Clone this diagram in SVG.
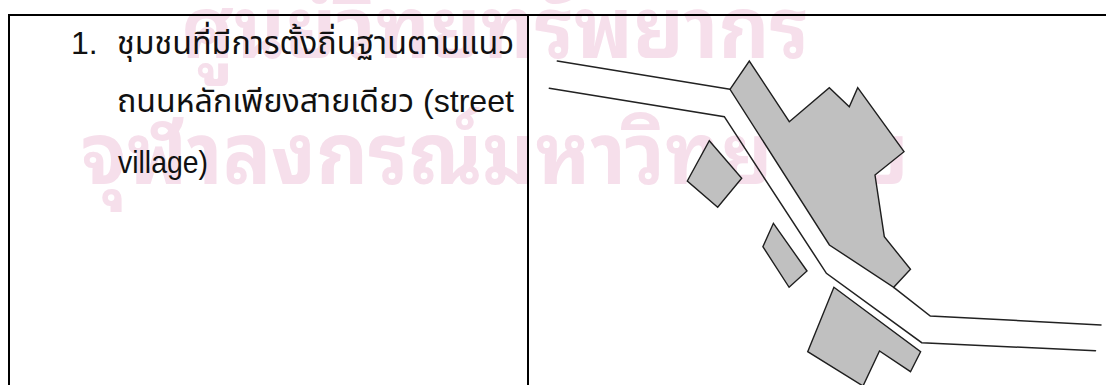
<svg xmlns="http://www.w3.org/2000/svg" width="1106" height="385" viewBox="0 0 1106 385">
  <style>
    .rule { stroke: #000; stroke-width: 2; fill: none; }
    .body { font-family: "Liberation Sans", "Noto Sans Thai", "Noto Sans Thai Looped", "Loma", "Garuda", "Noto Sans", sans-serif; font-size: 32px; fill: #111; }
    .mark { font-family: "Noto Sans Thai Looped", "Noto Sans Thai", "Loma", "Garuda", "Noto Sans", sans-serif; font-size: 86px; font-weight: bold; fill: #f6dfeb; }
    .lot { fill: #c0c0c0; stroke: #1e1e1e; stroke-width: 1.4; stroke-linejoin: miter; }
    .road { fill: none; stroke: #222; stroke-width: 1.5; stroke-linejoin: miter; stroke-linecap: round; }
  </style>

  <rect x="0" y="0" width="1106" height="385" fill="#fff"/>

  <!-- pale background imprint -->
  <g id="imprint" class="mark">
    <text x="181" y="58" textLength="628" lengthAdjust="spacingAndGlyphs">ศูนย์วิทยทรัพยากร</text>
    <text x="81" y="184" textLength="828" lengthAdjust="spacingAndGlyphs">จุฬาลงกรณ์มหาวิทยาลัย</text>
  </g>

  <!-- table frame -->
  <g id="table">
    <path class="rule" d="M8 15 H1106"/>
    <path class="rule" d="M9 14 V385"/>
    <path class="rule" d="M528 14 V385"/>
  </g>

  <!-- left cell: description -->
  <g id="description" class="body">
    <text x="71" y="54">1.</text>
    <text x="117" y="54" textLength="397" lengthAdjust="spacingAndGlyphs">ชุมชนที่มีการตั้งถิ่นฐานตามแนว</text>
    <text x="117" y="112" textLength="397" lengthAdjust="spacingAndGlyphs">ถนนหลักเพียงสายเดียว (street</text>
    <text x="118" y="173" textLength="90" lengthAdjust="spacingAndGlyphs">village)</text>
  </g>

  <!-- right cell: street village plan -->
  <g id="plan">
    <g id="road">
      <polyline class="road" points="557.3,61 730,89.3"/>
      <polyline class="road" points="893.7,287.3 930.3,316 1101,325"/>
      <polyline class="road" points="549.3,88.3 724.3,116.7 826.4,273.3 921.7,342.7 1095.5,350.7"/>
    </g>
    <polygon id="block-main" class="lot" points="730,89.3 749.3,61 789.3,121.7 829.3,87.7 849.3,106.7 857.7,87.7 904,151.7 875,175 884.3,236.7 910.5,269.3 893.7,287.3 829.4,245"/>
    <polygon id="block-diamond" class="lot" points="709.3,140.7 741.7,178.3 717.7,207.3 687.3,181"/>
    <polygon id="block-small" class="lot" points="773.4,223.3 807,271 789.1,287.3 762.9,246.7"/>
    <polygon id="block-south" class="lot" points="833.9,287.3 920.6,351.7 910.5,371.7 879.5,351 863,386 807.7,351.7"/>
  </g>
</svg>
